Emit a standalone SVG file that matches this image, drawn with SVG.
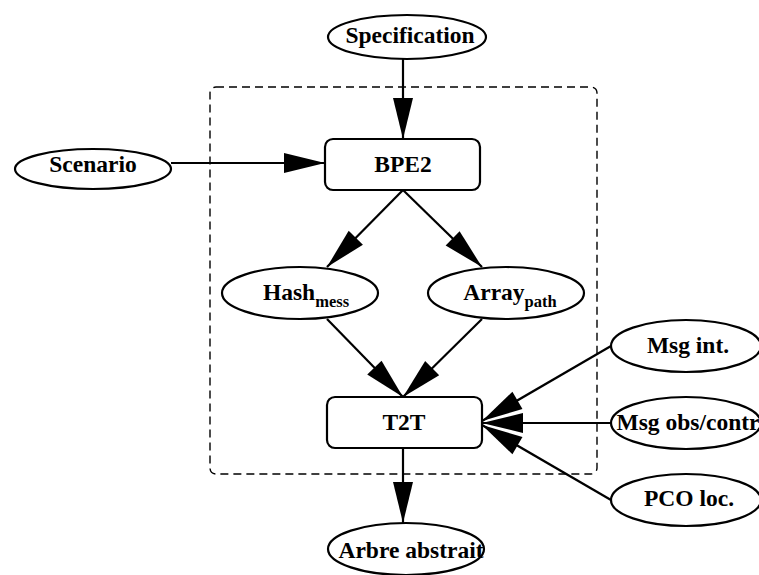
<svg xmlns="http://www.w3.org/2000/svg" width="759" height="575" viewBox="0 0 759 575">
  <style>
    .node { fill: #ffffff; stroke: #000000; stroke-width: 2.2; }
    .label { font-weight: bold; font-size: 23.5px; fill: #000000; text-anchor: middle; }
    .sub { font-size: 16.5px; }
    .edge { fill: none; stroke: #000000; stroke-width: 2.2; marker-end: url(#arrow); }
    .cluster { fill: none; stroke: #000000; stroke-width: 1.4; stroke-dasharray: 8 5; }
  </style>
  <defs>
    <marker id="arrow" markerUnits="userSpaceOnUse" markerWidth="41" markerHeight="20" refX="41" refY="10" orient="auto" overflow="visible">
      <path d="M0,0 L41,10 L0,20 Z" fill="#000000"/>
    </marker>
  </defs>
  <rect width="759" height="575" fill="#ffffff"/>

  <!-- processing cluster -->
  <rect class="cluster" x="210" y="87" width="387" height="387" rx="6"/>

  <!-- connectors -->
  <g id="edges">
    <line class="edge" x1="403" y1="59" x2="403" y2="139"/>
    <line class="edge" x1="171" y1="163" x2="325" y2="163"/>
    <line class="edge" x1="403" y1="190" x2="327" y2="267"/>
    <line class="edge" x1="403" y1="190" x2="482" y2="267"/>
    <line class="edge" x1="327" y1="319" x2="403" y2="397"/>
    <line class="edge" x1="482" y1="319" x2="403" y2="397"/>
    <line class="edge" x1="403" y1="448" x2="403" y2="523"/>
    <line class="edge" x1="611" y1="346" x2="482" y2="421"/>
    <line class="edge" x1="611" y1="423" x2="482" y2="423"/>
    <line class="edge" x1="611" y1="500" x2="482" y2="425"/>
  </g>

  <g font-family="'Liberation Serif', 'Times New Roman', 'DejaVu Serif', serif">
    <g id="specification">
      <ellipse class="node" cx="407" cy="37" rx="79" ry="22"/>
      <text class="label" x="410" y="43">Specification</text>
    </g>
    <g id="scenario">
      <ellipse class="node" cx="93" cy="169" rx="78" ry="20"/>
      <text class="label" x="93" y="172">Scenario</text>
    </g>
    <g id="bpe2">
      <rect class="node" x="325" y="139" width="155" height="51" rx="8"/>
      <text class="label" x="403" y="172">BPE2</text>
    </g>
    <g id="hash">
      <ellipse class="node" cx="300" cy="293" rx="78" ry="26"/>
      <text class="label" x="306" y="300">Hash<tspan class="sub" dy="7">mess</tspan></text>
    </g>
    <g id="array">
      <ellipse class="node" cx="506" cy="293" rx="78" ry="26"/>
      <text class="label" x="510" y="300">Array<tspan class="sub" dy="7">path</tspan></text>
    </g>
    <g id="t2t">
      <rect class="node" x="327" y="397" width="155" height="51" rx="8"/>
      <text class="label" x="404" y="430">T2T</text>
    </g>
    <g id="msg-int">
      <ellipse class="node" cx="686" cy="346" rx="75" ry="26"/>
      <text class="label" x="688" y="353">Msg int.</text>
    </g>
    <g id="msg-obs">
      <ellipse class="node" cx="686" cy="423" rx="75" ry="26"/>
      <text class="label" x="688" y="430">Msg obs/contr</text>
    </g>
    <g id="pco-loc">
      <ellipse class="node" cx="686" cy="500" rx="75" ry="26"/>
      <text class="label" x="689" y="506">PCO loc.</text>
    </g>
    <g id="arbre">
      <ellipse class="node" cx="406" cy="549" rx="78" ry="26"/>
      <text class="label" x="411" y="558">Arbre abstrait</text>
    </g>
  </g>
</svg>
